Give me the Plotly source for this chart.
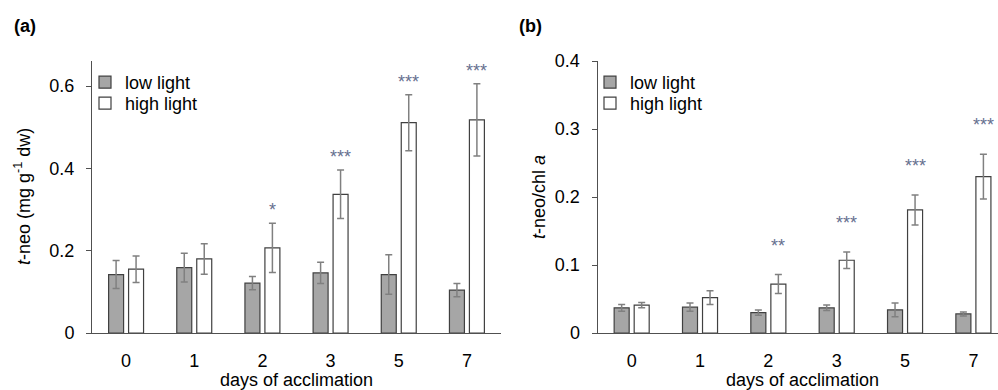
import plotly.graph_objects as go

# ---------------- data ----------------
days = ["0", "1", "2", "3", "5", "7"]

a_low = [0.142, 0.159, 0.121, 0.146, 0.142, 0.104]
a_low_err = [0.034, 0.035, 0.016, 0.026, 0.048, 0.016]
a_high = [0.155, 0.180, 0.207, 0.337, 0.511, 0.518]
a_high_err = [0.032, 0.037, 0.060, 0.059, 0.068, 0.088]
a_sig = ["", "", "*", "***", "***", "***"]

b_low = [0.037, 0.038, 0.030, 0.037, 0.034, 0.028]
b_low_err = [0.005, 0.006, 0.004, 0.004, 0.010, 0.003]
b_high = [0.041, 0.052, 0.072, 0.107, 0.181, 0.230]
b_high_err = [0.004, 0.010, 0.014, 0.012, 0.022, 0.033]
b_sig = ["", "", "**", "***", "***", "***"]

series_names = ["low light", "high light"]

# ---------------- style ----------------
FONT = "Liberation Sans, Arial, sans-serif"
LOW_FILL = "#a6a6a6"
HIGH_FILL = "#ffffff"
OUTLINE = "#404040"
ERR = "#808080"
AXIS = "#505050"
STAR = "#66708f"
BARGAP = 0.414
W, H = 998, 390
TOP, BOT = 61, 57
PLOT_H = H - TOP - BOT


def px_x(x):
    return x / W


def px_y(y):
    return (H - BOT - y) / PLOT_H


fig = go.Figure()


def add_panel(low, low_err, high, high_err, xa, ya, legends):
    for name, vals, errs, fill, lg in [
        (series_names[0], low, low_err, LOW_FILL, legends[0]),
        (series_names[1], high, high_err, HIGH_FILL, legends[1]),
    ]:
        fig.add_trace(go.Bar(
            x=days, y=vals, name=name, xaxis=xa, yaxis=ya, legend=lg,
            marker=dict(color=fill, line=dict(color=OUTLINE, width=1.2)),
            error_y=dict(type="data", array=errs, visible=True,
                         color=ERR, thickness=1.5, width=3.5),
        ))


add_panel(a_low, a_low_err, a_high, a_high_err, "x", "y", ["legend", "legend2"])
add_panel(b_low, b_low_err, b_high, b_high_err, "x2", "y2", ["legend3", "legend4"])

# significance stars above the high-light bars
slot = (1 - BARGAP) / 2
annotations = []
for sig, vals, errs, xref, yref, shift in [
    (a_sig, a_high, a_high_err, "x", "y", 13),
    (b_sig, b_high, b_high_err, "x2", "y2", 29),
]:
    for i, s in enumerate(sig):
        if s:
            annotations.append(dict(
                x=i + slot / 2, y=vals[i] + errs[i], xref=xref, yref=yref,
                text=s, showarrow=False, yanchor="middle", yshift=shift,
                font=dict(family=FONT, size=18, color=STAR),
            ))

txt = dict(family=FONT, size=18, color="#000")
annotations += [
    dict(x=px_x(12), y=px_y(26), xref="paper", yref="paper", text="<b>(a)</b>",
         showarrow=False, xanchor="left", yanchor="middle", font=txt),
    dict(x=px_x(517), y=px_y(26), xref="paper", yref="paper", text="<b>(b)</b>",
         showarrow=False, xanchor="left", yanchor="middle", font=txt),
    dict(x=px_x(22), y=px_y(197), xref="paper", yref="paper",
         text="<i>t</i>-neo (mg g<sup>-1</sup> dw)", textangle=-90,
         showarrow=False, xanchor="center", yanchor="middle", font=txt),
    dict(x=px_x(539), y=px_y(197), xref="paper", yref="paper",
         text="<i>t</i>-neo/chl <i>a</i>", textangle=-90,
         showarrow=False, xanchor="center", yanchor="middle", font=txt),
    dict(x=px_x(296), y=px_y(380), xref="paper", yref="paper",
         text="days of acclimation",
         showarrow=False, xanchor="center", yanchor="middle", font=txt),
    dict(x=px_x(802), y=px_y(380), xref="paper", yref="paper",
         text="days of acclimation",
         showarrow=False, xanchor="center", yanchor="middle", font=txt),
]

xcommon = dict(type="category", showline=True, linecolor=AXIS, linewidth=1,
               ticks="", showgrid=False, zeroline=False,
               tickfont=txt, ticklabelstandoff=11)
ycommon = dict(showline=True, linecolor=AXIS, linewidth=1, ticks="outside",
               ticklen=5, tickcolor=AXIS, showgrid=False, zeroline=False,
               tickfont=txt, ticklabelstandoff=8)

legend_common = dict(font=txt, bgcolor="rgba(0,0,0,0)", xanchor="left",
                     yanchor="top", tracegroupgap=0,
                     itemclick=False, itemdoubleclick=False)

fig.update_layout(
    width=W, height=H,
    margin=dict(l=0, r=0, t=TOP, b=BOT),
    paper_bgcolor="white", plot_bgcolor="white",
    barmode="group", bargap=BARGAP, bargroupgap=0.25,
    showlegend=True,
    xaxis=dict(domain=[px_x(92), px_x(501)], range=[-0.5, 5.5], anchor="y", **xcommon),
    yaxis=dict(domain=[0, 1], range=[0, 0.661], tickvals=[0, 0.2, 0.4, 0.6],
               ticktext=["0", "0.2", "0.4", "0.6"], anchor="x", **ycommon),
    xaxis2=dict(domain=[px_x(597.5), 1.0], range=[-0.5, 5.36], anchor="y2", **xcommon),
    yaxis2=dict(domain=[0, 1], range=[0, 0.4], tickvals=[0, 0.1, 0.2, 0.3, 0.4],
                ticktext=["0", "0.1", "0.2", "0.3", "0.4"], anchor="x2", **ycommon),
    legend=dict(x=px_x(85), y=px_y(64), **legend_common),
    legend2=dict(x=px_x(85), y=px_y(85), **legend_common),
    legend3=dict(x=px_x(590), y=px_y(64), **legend_common),
    legend4=dict(x=px_x(590), y=px_y(85), **legend_common),
    annotations=annotations,
)

fig.write_html("out.html",
               config={"displayModeBar": False},
               post_script="document.body.style.margin='0';"
                           "document.body.style.overflow='hidden';")
